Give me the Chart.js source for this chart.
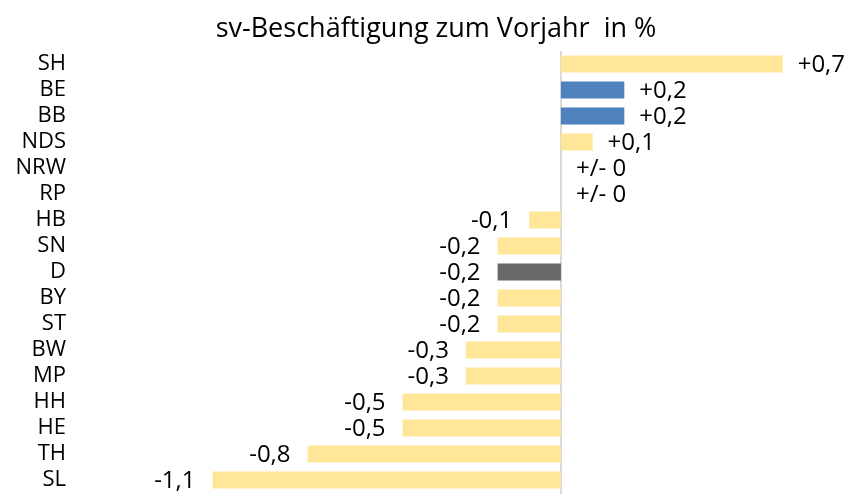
<!DOCTYPE html>
<html>
<head>
<meta charset="utf-8">
<script src="https://cdn.jsdelivr.net/npm/chart.js@4/dist/chart.umd.min.js"></script>
<style>
    body{margin:0;background:#fff;}
    #box{width:848px;height:494px;position:relative;}
</style>
</head>
<body>
<div id="box"><canvas id="graf1"></canvas></div>
<script>
const LAENDER = ['SH','BE','BB','NDS','NRW','RP','HB','SN','D','BY','ST','BW','MP','HH','HE','TH','SL'];
const WERTE = [0.7,0.2,0.2,0.1,0,0,-0.1,-0.2,-0.2,-0.2,-0.2,-0.3,-0.3,-0.5,-0.5,-0.8,-1.1];
const GRUPPE = ['land','ost','ost','land','land','land','land','land','bund','land','land','land','land','land','land','land','land'];
const TITEL = 'sv-Beschäftigung zum Vorjahr  in %';

const COR = {land:'#FFE699', ost:'#4F81BD', bund:'#696969'};
const FONTE = "'Open Sans', 'Noto Sans', sans-serif";

function rotulo(v){
    if(v === 0) return '+/- 0';
    let s = Math.abs(v).toFixed(1).replace('.', ',');
    return (v > 0 ? '+' : '-') + s;
}

// titel, nulllinie + werte an den balken
const extras = {
    id:'extras',
    beforeDatasetsDraw(chart){
        let c = chart.ctx;
        let x0 = chart.scales.x.getPixelForValue(0);
        c.save();
        c.strokeStyle = '#d9d9d9';
        c.lineWidth = 2;
        c.beginPath();
        c.moveTo(x0, chart.chartArea.top);
        c.lineTo(x0, chart.height);
        c.stroke();
        c.font = "27px " + FONTE;
        c.fillStyle = '#000';
        c.textAlign = 'center';
        c.textBaseline = 'alphabetic';
        c.fillText(TITEL, 436, 37);
        c.restore();
    },
    afterDatasetsDraw(chart){
        let c = chart.ctx;
        let meta = chart.getDatasetMeta(0);
        let x0 = chart.scales.x.getPixelForValue(0);
        c.save();
        c.font = "24px " + FONTE;
        c.fillStyle = '#000';
        c.textBaseline = 'middle';
        meta.data.forEach(function(bar, i){
            let v = WERTE[i];
            if(v >= 0){
                c.textAlign = 'left';
                c.fillText(rotulo(v), (v === 0 ? x0 : bar.x) + 15, bar.y + 1);
            } else {
                c.textAlign = 'right';
                c.fillText(rotulo(v), bar.x - 17, bar.y + 1);
            }
        });
        c.restore();
    }
};

function chartBeschaeftigung(){
    let ctx = document.getElementById('graf1');
    let config = {
        type: 'bar',
        data: {
            labels: LAENDER,
            datasets: [{
                data: WERTE,
                backgroundColor: GRUPPE.map(g => COR[g]),
                borderWidth: 0,
                barPercentage: 0.65,
                categoryPercentage: 1
            }]
        },
        options: {
            indexAxis: 'y',
            responsive: true,
            maintainAspectRatio: false,
            animation: false,
            layout:{
                padding:{left:0, right:2, top:51, bottom:1}
            },
            scales:{
                x:{
                    min: -1.55,
                    max: 0.9,
                    display: false
                },
                y:{
                    grid:{display:false, drawTicks:false},
                    border:{display:false},
                    ticks:{
                        color:'#000',
                        padding: 4,
                        autoSkip: false,
                        font:{family:FONTE, size:22}
                    },
                    afterFit(scale){
                        scale.width = 70;
                        scale.paddingTop = 0;
                        scale.paddingBottom = 0;
                    }
                }
            },
            plugins:{
                legend:{display:false},
                tooltip:{enabled:false},
                title:{display:false}
            }
        },
        plugins: [extras]
    };
    new Chart(ctx, config);
}
chartBeschaeftigung();
</script>
</body>
</html>
